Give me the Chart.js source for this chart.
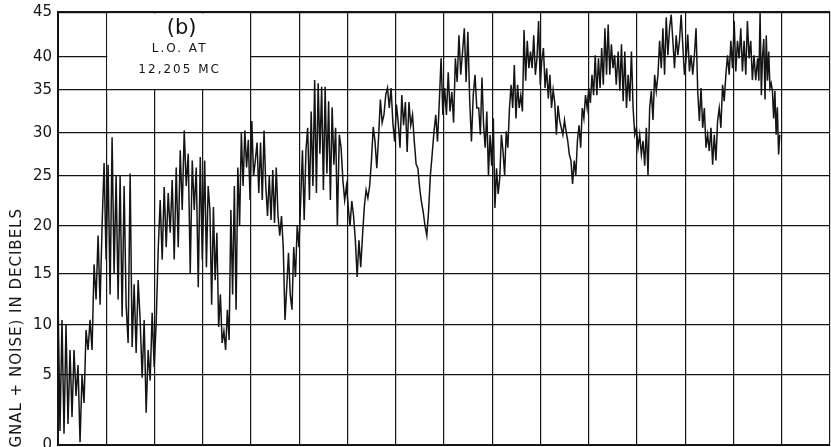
<!DOCTYPE html>
<html>
<head>
<meta charset="utf-8">
<script src="https://cdn.jsdelivr.net/npm/chart.js@4.4.1/dist/chart.umd.min.js"></script>
<style>
  html, body { margin: 0; padding: 0; background: #fff; }
  #wrap { width: 831px; height: 447px; position: relative; }
</style>
</head>
<body>
<div id="wrap"><canvas id="chart"></canvas></div>
<script>
// recorder trace, dB, one array per stretch of the record
const segA = [13, 1, 10.5, 0.8, 10, 1.5, 7.5, 2, 7.5, 3.5, 6, 0.2, 5, 3, 9.5, 7.5, 10.5, 7.5, 16, 12.5,
    19, 12, 20, 26.5, 16.5, 26.3, 13, 29.5, 15, 25, 12.5, 25, 10.8, 24, 12, 8.2, 25.3, 7.8, 14, 7.2,
    14.4, 10.5, 4.8, 10.5, 2.3, 7.5, 4.6, 11.2, 5.8, 10.2, 17.5, 22.6, 16.5, 23.9, 17.8, 23.3, 19.3, 24.6,
    16.5, 26, 17.8, 28, 21.6, 30.3, 24, 27.6, 15.1, 26.8, 21.6, 26, 13.7, 27.2, 16.5];
const segB = [26.8, 15.7, 24, 21.6, 12, 21.9, 14.4, 19.3, 9.8, 13, 8.2, 9.4, 7.5, 11.5, 8.5, 21.6, 13, 24,
    11.5, 26, 20, 30, 24, 30.3, 26, 29.2, 22.6, 31.4, 25, 26.8, 28.9, 23.3, 28.9, 22.6, 30.3, 24, 21, 25,
    20.6, 25.7, 20.3, 26, 21, 19, 21, 17.8, 10.5, 13.7, 17.2, 13, 11.5, 17.8, 14.7, 20, 17.8, 22.6, 28,
    20.6, 28, 30.6, 22.6, 32.5, 24, 36.5, 23.3, 36, 27.6, 35.5, 23.6, 35.5, 25.3, 33.7, 22.6, 33, 26.3,
    30.6, 20];
const segC = [29.8, 28.3, 24.6, 22.6, 24, 21.9, 20, 22.5, 21, 18.5, 14.7, 18.5, 15.7, 19, 21.9, 23.6, 22.8,
    24, 26.8, 30.7, 29, 25.9, 29.5, 33.9, 31.2, 32.1, 34.4, 35.3, 32.9, 35.3, 31.2, 29, 33.3, 31.2, 28.3,
    34.4, 30.9, 33.6, 27.8, 33.6, 30.9, 32.1, 29, 26.4, 25.9, 23.8, 22.4, 21.4, 20, 19, 21.5, 25.1, 27.5,
    30.1, 32.1, 29, 33.6, 39.8, 32.1, 35.3, 32.1, 37.7, 32.5, 34.8, 31.2, 39.8, 36.2, 42.4, 37.3, 40.5,
    43.2, 36.2, 42.8, 33.9, 29, 34.4, 37.3, 32.9];
const segD = [32.9, 29.8, 36.9, 30.9, 28.3, 32.5, 25.1, 29.8, 26.2, 31.7, 21.8, 25.9, 23.2, 24.8, 29.8, 27.9,
    25.1, 30.2, 28.3, 32.9, 35.8, 32.9, 38.8, 31.7, 35.8, 32.9, 34.4, 32.5, 43, 36.4, 41.8, 38.3, 40.6,
    38.3, 42.4, 37.3, 39.8, 44, 35.8, 39.5, 41, 35.3, 38.3, 34, 37.3, 32.9, 35, 33.5, 29.8, 33.2, 31.5,
    30.6, 29.8, 31.5, 30.2, 29.1, 27.5, 26.8, 24.2, 26.8, 25.1, 29.1, 30.9, 28.3, 32.9, 31.7, 34.4, 32.9,
    35.3, 33.5, 37.3, 34.4, 40.2, 34.4, 39.8, 35.3, 41, 35.8, 43.2, 37.3, 43.6, 37.3, 41.4, 38.3, 40.2, 35.8];
const segE = [40.6, 34.9, 41.4, 33.7, 40.6, 32.9, 37.3, 33.7, 40.6, 32.9, 29.8, 30.6, 28.3, 29.8, 27.5, 29.1,
    26.2, 30.6, 25.1, 32.9, 34.9, 31.5, 37.3, 34.9, 37.3, 41.8, 38.3, 43.2, 37.3, 44.4, 40.2, 43.2, 44.7,
    41.8, 38.3, 42.4, 40.2, 41.8, 44.7, 41.3, 37.3, 39.8, 42.5, 37.8, 40.2, 37.3, 40.2, 43.2, 34.9, 31.4,
    35.3, 30.6, 32.9, 28.3, 29.8, 27.9, 30.6, 26.3, 29.8, 26.8, 31.4, 32.9, 30.6, 35.8, 33.7, 37.3, 40.2,
    37.3, 41.8, 38.3, 44, 37.8, 41.8, 39.8, 43.2, 37.8, 41.8, 37.3, 44, 39.8, 41.8, 36.5, 40.2, 36.5];
const segF = [39.8, 36.4, 44.9, 34.4, 40.2, 42, 33.9, 42.4, 36.4, 40.6, 35.3, 36, 34.9, 31.7, 34.9, 29.8,
    33, 27.5, 29.8];

// where each stretch starts and ends, in chart divisions
const segments = [segA, segB, segC, segD, segE, segF];
const segSpans = [[0, 2.99], [3.04, 5.79], [5.83, 8.68], [8.72, 11.57], [11.61, 14.46], [14.5, 14.96]];

// y ticks in dB
const yTicks = [0, 5, 10, 15, 20, 25, 30, 35, 40, 45];

// the paper's dB ruling is not linear: height of each tick as fraction of the chart
const rulingFrac = [0, 0.1617, 0.2771, 0.3949, 0.5058, 0.6212, 0.7206, 0.8199, 0.8961, 1];

function dbToFrac(v) {
    if (v <= yTicks[0]) return 0;
    for (let i = 1; i < yTicks.length; i++) {
        if (v <= yTicks[i]) {
            const t = (v - yTicks[i - 1]) / (yTicks[i] - yTicks[i - 1]);
            return rulingFrac[i - 1] + t * (rulingFrac[i] - rulingFrac[i - 1]);
        }
    }
    return 1;
}
function fracToDb(f) {
    for (let i = 1; i < rulingFrac.length; i++) {
        if (f <= rulingFrac[i]) {
            const t = (f - rulingFrac[i - 1]) / (rulingFrac[i] - rulingFrac[i - 1]);
            return yTicks[i - 1] + t * (yTicks[i] - yTicks[i - 1]);
        }
    }
    return yTicks[yTicks.length - 1];
}

class RecorderScale extends Chart.LinearScale {
    getPixelForValue(value) {
        return this.getPixelForDecimal(dbToFrac(value));
    }
    getValueForPixel(pixel) {
        return fracToDb(this.getDecimalForPixel(pixel));
    }
}
RecorderScale.id = 'recorder';
RecorderScale.defaults = {};
Chart.register(RecorderScale);

const points = [];
segments.forEach((seg, s) => {
    const [x0, x1] = segSpans[s];
    seg.forEach((v, i) => {
        points.push({ x: x0 + (x1 - x0) * i / (seg.length - 1), y: v });
    });
});

const INK = '#141414';

// blank label block in the upper left and the hand-lettered captions
const captionPlugin = {
    id: 'caption',
    beforeDatasetsDraw(chart) {
        const { ctx, scales: { x, y } } = chart;
        const left = x.getPixelForValue(1) + 1;
        const right = x.getPixelForValue(4) - 1;
        const top = y.getPixelForValue(45) + 1.5;
        const bottom = y.getPixelForValue(35) - 1;
        ctx.save();
        ctx.fillStyle = '#fff';
        ctx.fillRect(left, top, right - left, bottom - top);
        ctx.restore();
    },
    afterDraw(chart) {
        const { ctx, scales: { x, y } } = chart;
        const cx = (x.getPixelForValue(1) + x.getPixelForValue(4)) / 2 + 1;
        ctx.save();
        ctx.fillStyle = INK;
        ctx.textAlign = 'center';
        ctx.textBaseline = 'middle';
        ctx.font = '21px "DejaVu Sans"';
        ctx.fillText('(b)', cx + 2, y.top + 17);
        ctx.font = '12px "DejaVu Sans"';
        if ('letterSpacing' in ctx) ctx.letterSpacing = '2px';
        ctx.fillText('L.O. AT', cx, y.top + 37);
        ctx.fillText('12,205 MC', cx, y.top + 58);
        // axis title, runs off the bottom of the sheet like the original
        ctx.font = '15px "DejaVu Sans"';
        if ('letterSpacing' in ctx) ctx.letterSpacing = '1px';
        ctx.translate(17, 208);
        ctx.rotate(-Math.PI / 2);
        ctx.textAlign = 'right';
        ctx.fillText('(SIGNAL + NOISE) IN DECIBELS', 0, 0);
        ctx.restore();
    }
};

new Chart(document.getElementById('chart'), {
    type: 'line',
    data: {
        datasets: [{
            data: points,
            borderColor: INK,
            borderWidth: 1.5,
            pointRadius: 0,
            tension: 0,
            fill: false
        }]
    },
    options: {
        responsive: true,
        maintainAspectRatio: false,
        animation: false,
        events: [],
        layout: { padding: { top: 12, bottom: 2, left: 0, right: 1 } },
        plugins: {
            legend: { display: false },
            tooltip: { enabled: false }
        },
        scales: {
            x: {
                type: 'linear',
                min: 0,
                max: 16,
                grid: { color: INK, lineWidth: 1.2, drawTicks: false },
                border: { color: INK, width: 2 },
                ticks: { display: false, stepSize: 1 },
                afterFit(scale) { scale.height = 0; }
            },
            y: {
                type: 'recorder',
                min: 0,
                max: 45,
                grid: {
                    color: INK,
                    drawTicks: false,
                    lineWidth: (c) => (c.tick && c.tick.value === 45 ? 2.2 : 1.2)
                },
                border: { color: INK, width: 2 },
                ticks: {
                    stepSize: 5,
                    padding: 6,
                    color: INK,
                    font: { family: 'DejaVu Sans', size: 15 }
                },
                afterFit(scale) {
                    scale.width = 58;
                    scale.paddingTop = 0;
                    scale.paddingBottom = 0;
                }
            }
        }
    },
    plugins: [captionPlugin]
});
</script>
</body>
</html>
